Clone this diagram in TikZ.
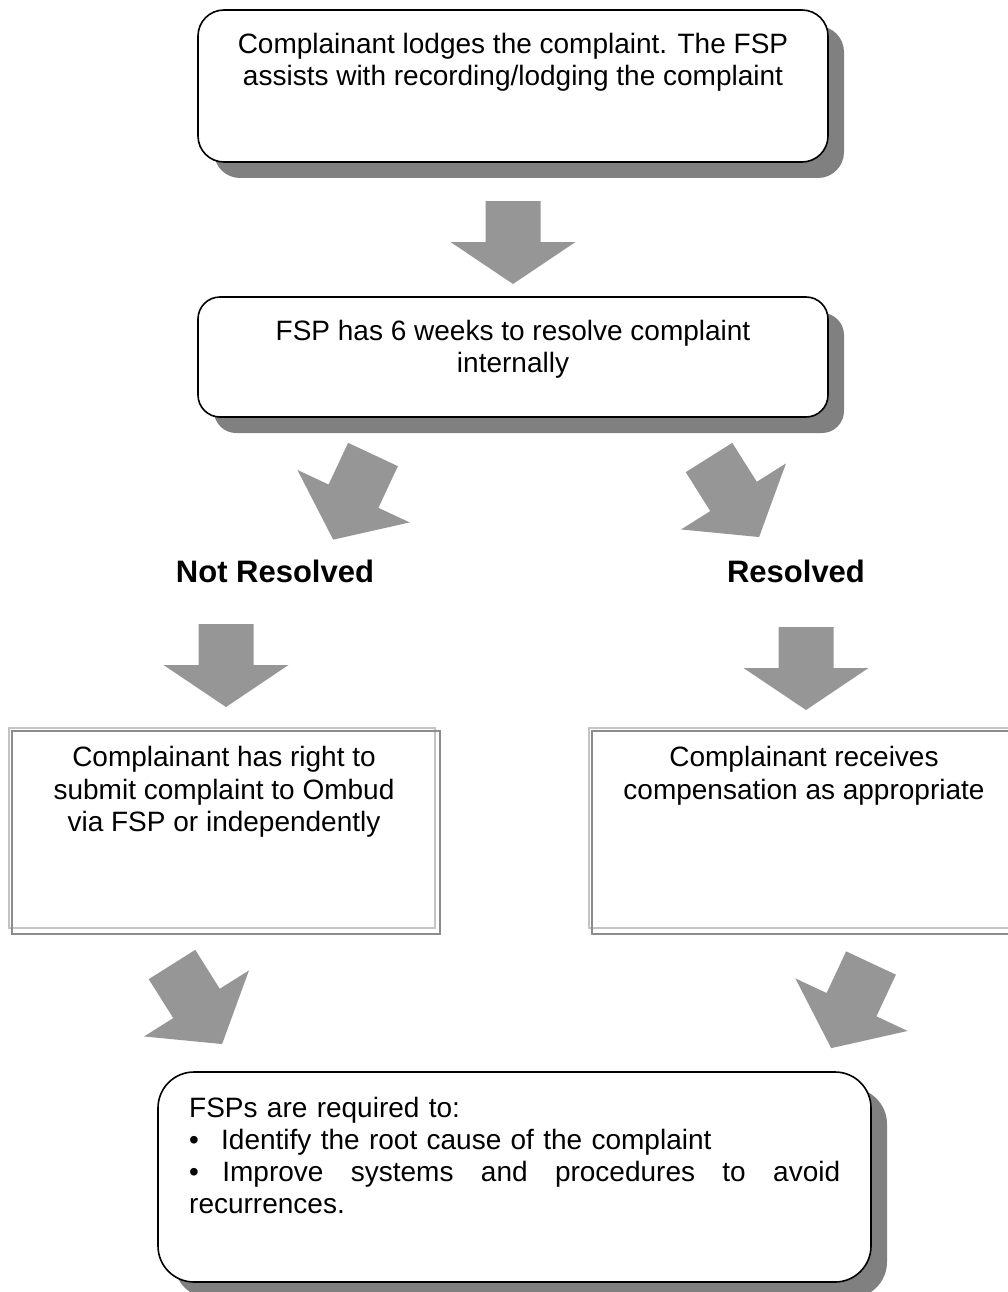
\documentclass[tikz,border=0pt]{standalone}
\usepackage{fontspec}
\setmainfont{Liberation Sans}
\usetikzlibrary{shadows}

\definecolor{arrowgray}{HTML}{969696}
\definecolor{shadowgray}{HTML}{808080}
\definecolor{framelight}{HTML}{C4C4C4}
\definecolor{framedark}{HTML}{8C8C8C}

\tikzset{
  % rounded step box with a solid grey drop shadow
  shadowbox/.style={draw=black, line width=1.6pt, fill=white, rounded corners=#1,
    inner sep=0pt,
    drop shadow={shadow xshift=16pt, shadow yshift=-16pt, fill=shadowgray, opacity=1}},
  % square outcome box with a two-tone double frame
  outcomebox/.style={draw=framelight, line width=2.4pt, fill=white, inner sep=0pt,
    minimum width=426pt, minimum height=200pt},
  innerframe/.style={draw=framedark, line width=1.8pt},
  bodytext/.style={font=\fontsize{28}{32.3}\selectfont, align=center, inner sep=0pt},
  labeltext/.style={font=\fontsize{31}{36}\selectfont\bfseries, inner sep=0pt},
  % block arrows, drawn along the local x axis from the tail centre
  shortarrow/.pic={\fill[arrowgray] (0,-27.5) -- (41,-27.5) -- (41,-62.5) -- (83,0)
      -- (41,62.5) -- (41,27.5) -- (0,27.5) -- cycle;},
  longarrow/.pic={\fill[arrowgray] (0,-27.5) -- (46,-27.5) -- (46,-62) -- (94,0)
      -- (46,62) -- (46,27.5) -- (0,27.5) -- cycle;},
}

\begin{document}
\begin{tikzpicture}[x=1pt, y=-1pt]
\useasboundingbox (0,0) rectangle (1008,1292);

% step 1: lodging the complaint
\node[shadowbox=26pt, minimum width=630pt, minimum height=152pt] (lodge) at (513,86) {};
\node[bodytext, anchor=north] (lodgetxt) at (513,33)
  {Complainant lodges the complaint. The FSP\\assists with recording/lodging the complaint};

\pic (a1) [rotate=-90] at (513,201) {shortarrow};

% step 2: internal resolution period
\node[shadowbox=22pt, minimum width=630pt, minimum height=120pt] (internal) at (513,357) {};
\node[bodytext, anchor=north] (internaltxt) at (513,320)
  {FSP has 6 weeks to resolve complaint\\internally};

% branching
\pic (a2) [rotate=-115.07] at (373,454.5) {longarrow};
\pic (a3) [rotate=-57.8] at (709,457.5) {longarrow};

\node[labeltext, anchor=base] (notres) at (275,582) {Not Resolved};
\node[labeltext, anchor=base] (res) at (796,582) {Resolved};

\pic (a4) [rotate=-90] at (226,624) {shortarrow};
\pic (a5) [rotate=-90] at (806,627) {shortarrow};

% outcomes
\node[outcomebox] (ombud) at (222,828) {};
\draw[innerframe] ([shift={(4,4.5)}]ombud.north west) rectangle ([shift={(4,4.5)}]ombud.south east);
\node[bodytext, anchor=north] (ombudtxt) at (224,746.5)
  {Complainant has right to\\submit complaint to Ombud\\via FSP or independently};

\node[outcomebox] (comp) at (802,828) {};
\draw[innerframe] ([shift={(4,4.5)}]comp.north west) rectangle ([shift={(4,4.5)}]comp.south east);
\node[bodytext, anchor=north] (comptxt) at (804,746.5)
  {Complainant receives\\compensation as appropriate};

\pic (a6) [rotate=-57.8] at (172,964.5) {longarrow};
\pic (a7) [rotate=-115.07] at (871,963) {longarrow};

% final step: follow-up by the FSP
\node[shadowbox=36pt, minimum width=713pt, minimum height=210pt] (followup) at (514.5,1177) {};
\node[bodytext, align=left, text width=651pt, anchor=north west] (followuptxt) at (189,1096.5)
  {FSPs are required to:\\
   \makebox[32pt][l]{\textbullet}Identify the root cause of the complaint\\
   \makebox[651pt][s]{\textbullet\hspace{-4pt}\hfill Improve\hfill systems\hfill and\hfill procedures\hfill to\hfill avoid}\\
   recurrences.};
\end{tikzpicture}
\end{document}
